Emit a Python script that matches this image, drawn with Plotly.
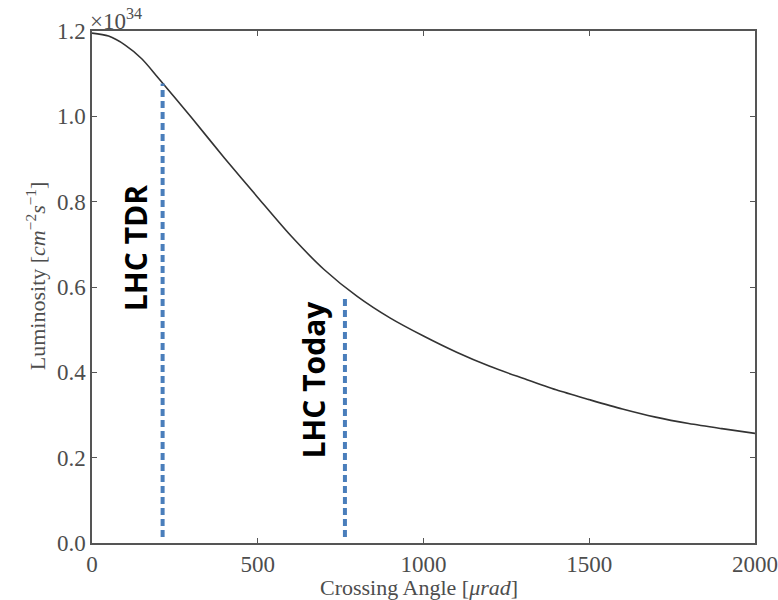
import plotly.graph_objects as go

# Curve (crossing angle in µrad, luminosity in 1e34 cm^-2 s^-1)
angle = [0, 50, 100, 150, 200, 300, 400, 500, 600, 700, 800, 900, 1000, 1100, 1200,
         1300, 1400, 1500, 1600, 1700, 1800, 1900, 2000]
lumi = [1.195, 1.188, 1.167, 1.135, 1.090, 0.997, 0.902, 0.810, 0.720, 0.641, 0.578,
        0.527, 0.485, 0.447, 0.414, 0.386, 0.359, 0.336, 0.314, 0.295, 0.280, 0.268, 0.257]

# Vertical marker lines
marker_names = ["LHC TDR", "LHC Today"]
marker_x = [213, 763]
marker_top = [1.077, 0.581]
marker_bottom = [0.014, 0.014]
# label centers (data coords)
label_x = [131, 668]
label_y = [0.692, 0.384]

xticks = [0, 500, 1000, 1500, 2000]
yticks = [0.0, 0.2, 0.4, 0.6, 0.8, 1.0, 1.2]

SERIF = "Liberation Serif"
GREY = "#4d4d4d"

fig = go.Figure()
fig.add_trace(go.Scatter(x=angle, y=lumi, mode="lines",
                         line=dict(color="#333333", width=1.6, shape="spline", smoothing=0.8),
                         showlegend=False, hoverinfo="skip"))
for mx, mt, mb in zip(marker_x, marker_top, marker_bottom):
    fig.add_trace(go.Scatter(x=[mx, mx], y=[mb, mt], mode="lines",
                             line=dict(color="#4a7ebb", width=4, dash="7px,4px"),
                             showlegend=False, hoverinfo="skip"))

for name, lx, ly in zip(marker_names, label_x, label_y):
    fig.add_annotation(x=lx, y=ly, xref="x", yref="y", text="<b>%s</b>" % name,
                       textangle=-90, showarrow=False,
                       font=dict(family="Open Sans", size=30, color="black"))

fig.add_annotation(x=0, y=1, xref="paper", yref="paper", xanchor="left", yanchor="bottom",
                   text="×10<sup>34</sup>", showarrow=False, yshift=-5, xshift=-4,
                   font=dict(family=SERIF, size=23, color=GREY))

# axis titles
fig.add_annotation(x=0.493, y=-0.087, xref="paper", yref="paper", xanchor="center", yanchor="middle",
                   text="Crossing Angle [<i>μrad</i>]", showarrow=False,
                   font=dict(family=SERIF, size=22, color=GREY))
fig.add_annotation(x=-0.0845, y=0.523, xref="paper", yref="paper", xanchor="center", yanchor="middle",
                   text="Luminosity [<i>cm</i><sup>−2</sup><i>s</i><sup>−1</sup>]", showarrow=False,
                   textangle=-90, font=dict(family=SERIF, size=22, color=GREY))

axis_common = dict(showline=True, linecolor="#555555", linewidth=1.5, mirror="ticks",
                   ticks="inside", ticklen=5, tickcolor="#555555", tickwidth=1,
                   showgrid=False, zeroline=False, automargin=False,
                   tickfont=dict(family=SERIF, size=23, color=GREY))

fig.update_layout(
    width=778, height=600,
    margin=dict(l=92, r=23, t=31, b=57),
    plot_bgcolor="white", paper_bgcolor="white",
    xaxis=dict(range=[0, 2000], tickvals=xticks, ticktext=[str(v) for v in xticks],
               **axis_common),
    yaxis=dict(range=[0, 1.2], tickvals=yticks, ticktext=["%.1f" % v for v in yticks],
               **axis_common),
)

fig.write_html("out.html")
